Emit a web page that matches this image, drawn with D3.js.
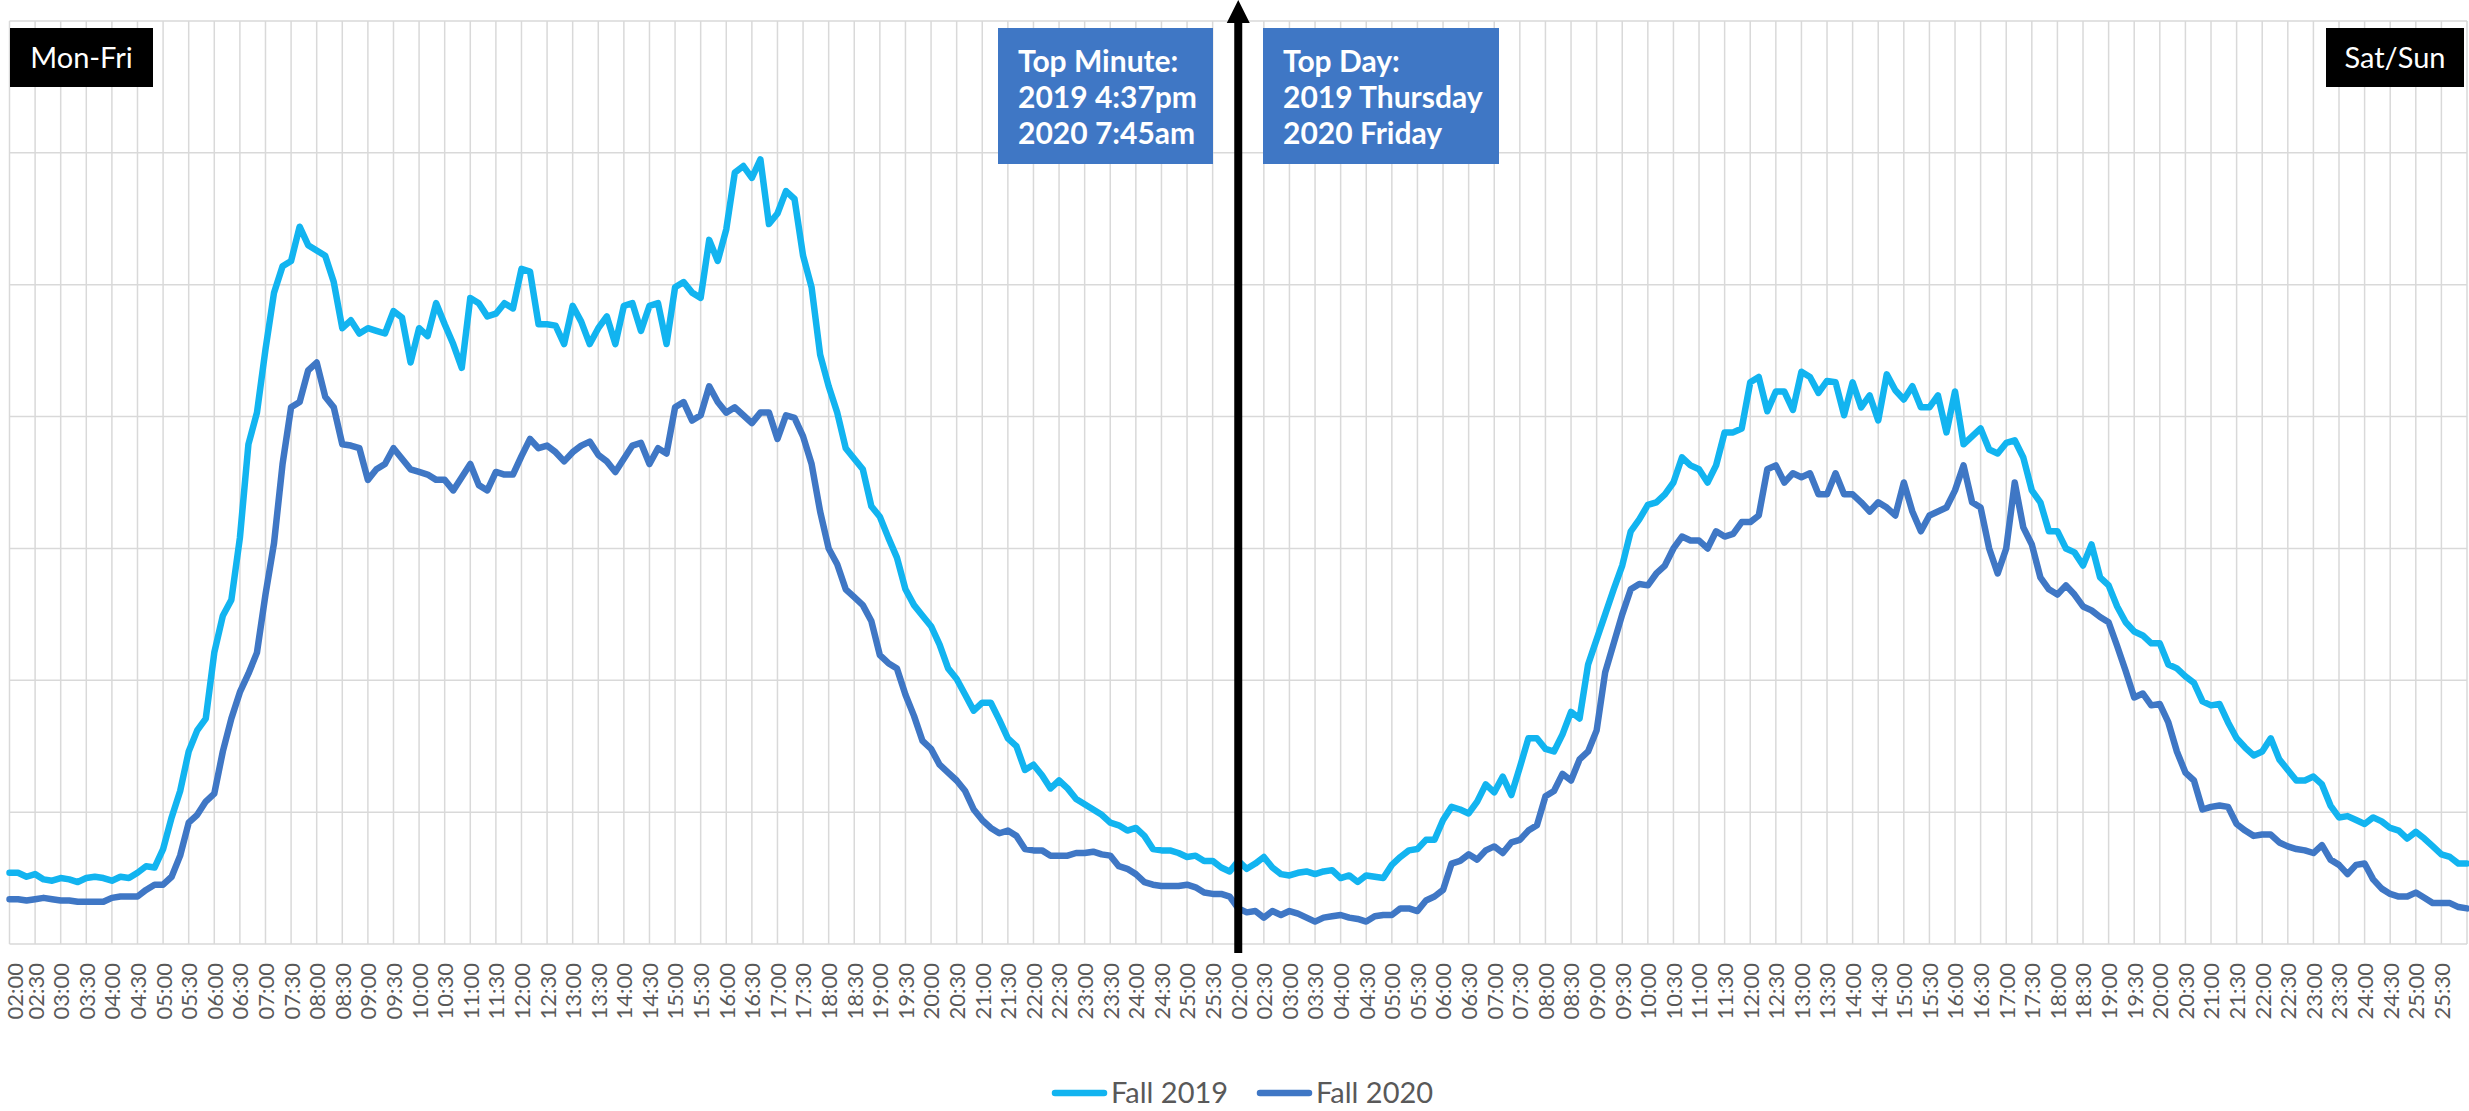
<!DOCTYPE html>
<html>
<head>
<meta charset="utf-8">
<script src="https://cdn.jsdelivr.net/npm/d3@7"></script>
<style>
  html, body { margin: 0; padding: 0; background: #fff; }
  svg { display: block; }
</style>
</head>
<body>
<svg id="chart" width="2469" height="1111"></svg>
<script>
// category labels (one per half hour, repeated for weekday and weekend)
const timeLabels = [
  "02:00","02:30","03:00","03:30","04:00","04:30","05:00","05:30",
  "06:00","06:30","07:00","07:30","08:00","08:30","09:00","09:30",
  "10:00","10:30","11:00","11:30","12:00","12:30","13:00","13:30",
  "14:00","14:30","15:00","15:30","16:00","16:30","17:00","17:30",
  "18:00","18:30","19:00","19:30","20:00","20:30","21:00","21:30",
  "22:00","22:30","23:00","23:30","24:00","24:30","25:00","25:30"
];
const tickLabels = timeLabels.concat(timeLabels);

// values every 10 minutes (1 unit = one gridline step)
const fall2019Weekday = [
  0.54,0.54,0.51,0.53,0.49,0.48,0.50,0.49,0.47,
  0.50,0.51,0.50,0.48,0.51,0.50,0.54,0.59,0.58,
  0.72,0.96,1.16,1.46,1.62,1.71,2.21,2.49,2.61,
  3.08,3.79,4.03,4.51,4.94,5.14,5.18,5.44,5.30,
  5.26,5.22,5.02,4.67,4.73,4.63,4.67,4.65,4.63,
  4.80,4.75,4.41,4.67,4.61,4.86,4.70,4.55,4.37,
  4.90,4.86,4.76,4.78,4.86,4.82,5.12,5.10,4.70,
  4.70,4.69,4.55,4.84,4.72,4.55,4.67,4.76,4.55,
  4.84,4.86,4.65,4.84,4.86,4.55,4.98,5.02,4.94,
  4.90,5.34,5.18,5.42,5.85,5.90,5.81,5.95,5.46,
  5.54,5.71,5.65,5.22,4.98,4.47,4.23,4.03,3.76,
  3.68,3.60,3.32,3.24,3.08,2.93,2.69,2.57,2.49,
  2.41,2.27,2.09,2.01,1.89,1.77,1.83,1.83,1.70,
  1.56,1.50,1.32,1.36,1.28,1.18,1.24,1.18,1.10,
  1.06,1.02,0.98,0.92,0.90,0.86,0.88,0.82,0.72,
  0.71,0.71,0.69,0.66,0.67,0.63,0.63,0.58,0.55
];
const fall2019Weekend = [
  0.63,0.57,0.61,0.66,0.58,0.53,0.52,0.54,0.55,
  0.53,0.55,0.56,0.50,0.52,0.47,0.52,0.51,0.50,
  0.60,0.66,0.71,0.72,0.79,0.79,0.94,1.04,1.02,
  0.99,1.08,1.21,1.15,1.27,1.13,1.34,1.56,1.56,
  1.48,1.46,1.59,1.76,1.71,2.12,2.31,2.50,2.69,
  2.87,3.13,3.22,3.33,3.35,3.41,3.50,3.69,3.63,
  3.60,3.50,3.63,3.88,3.88,3.91,4.26,4.30,4.04,
  4.19,4.19,4.05,4.34,4.30,4.18,4.27,4.26,4.01,
  4.26,4.07,4.16,3.97,4.32,4.20,4.13,4.23,4.07,
  4.07,4.16,3.88,4.19,3.79,3.85,3.91,3.75,3.72,
  3.80,3.82,3.69,3.44,3.35,3.13,3.13,3.00,2.97,
  2.87,3.03,2.78,2.72,2.56,2.44,2.37,2.34,2.28,
  2.28,2.12,2.09,2.03,1.98,1.84,1.81,1.82,1.68,
  1.56,1.49,1.43,1.46,1.56,1.40,1.32,1.24,1.24,
  1.27,1.21,1.05,0.96,0.97,0.94,0.91,0.96,0.93,
  0.88,0.86,0.80,0.85,0.80,0.74,0.68,0.66,0.61,
  0.61
];
const fall2020Weekday = [
  0.34,0.34,0.33,0.34,0.35,0.34,0.33,0.33,0.32,
  0.32,0.32,0.32,0.35,0.36,0.36,0.36,0.41,0.45,
  0.45,0.51,0.67,0.92,0.98,1.08,1.14,1.46,1.71,
  1.91,2.05,2.21,2.65,3.04,3.64,4.07,4.11,4.35,
  4.41,4.15,4.07,3.79,3.78,3.76,3.52,3.60,3.64,
  3.76,3.68,3.60,3.58,3.56,3.52,3.52,3.44,3.54,
  3.64,3.48,3.44,3.58,3.56,3.56,3.70,3.83,3.76,
  3.78,3.73,3.66,3.73,3.78,3.81,3.71,3.66,3.58,
  3.68,3.78,3.80,3.64,3.76,3.72,4.07,4.11,3.97,
  4.01,4.23,4.11,4.03,4.07,4.01,3.95,4.03,4.03,
  3.83,4.01,3.99,3.85,3.64,3.28,3.00,2.88,2.69,
  2.63,2.57,2.45,2.19,2.13,2.09,1.89,1.73,1.54,
  1.48,1.36,1.30,1.24,1.16,1.02,0.94,0.88,0.84,
  0.86,0.82,0.72,0.71,0.71,0.67,0.67,0.67,0.69,
  0.69,0.70,0.68,0.67,0.59,0.57,0.53,0.47,0.45,
  0.44,0.44,0.44,0.45,0.43,0.39,0.38,0.38,0.36
];
const fall2020Weekend = [
  0.27,0.24,0.25,0.20,0.25,0.22,0.25,0.23,0.20,
  0.17,0.20,0.21,0.22,0.20,0.19,0.17,0.21,0.22,
  0.22,0.27,0.27,0.25,0.33,0.36,0.41,0.61,0.63,
  0.68,0.64,0.71,0.74,0.69,0.77,0.79,0.86,0.90,
  1.12,1.16,1.29,1.24,1.40,1.46,1.62,2.06,2.28,
  2.50,2.69,2.73,2.72,2.81,2.87,3.00,3.09,3.06,
  3.06,3.00,3.13,3.09,3.11,3.20,3.20,3.25,3.60,
  3.63,3.50,3.57,3.54,3.57,3.41,3.41,3.57,3.41,
  3.41,3.35,3.28,3.35,3.31,3.25,3.50,3.28,3.13,
  3.25,3.28,3.31,3.44,3.63,3.35,3.31,3.00,2.81,
  3.00,3.50,3.16,3.03,2.78,2.69,2.65,2.72,2.65,
  2.56,2.53,2.48,2.44,2.26,2.07,1.87,1.90,1.81,
  1.82,1.68,1.46,1.30,1.24,1.02,1.04,1.05,1.04,
  0.91,0.86,0.82,0.83,0.83,0.77,0.74,0.72,0.71,
  0.69,0.75,0.64,0.60,0.53,0.60,0.61,0.49,0.42,
  0.38,0.36,0.36,0.39,0.35,0.31,0.31,0.31,0.28,
  0.27
];

const seriesNames = ["Fall 2019", "Fall 2020"];
const seriesColors = ["#12B4F0", "#3F77C5"];
const series = [
  fall2019Weekday.concat(fall2019Weekend),
  fall2020Weekday.concat(fall2020Weekend)
];

const svg = d3.select("#chart");
const width = 2469;
const height = 1111;
const plot = { left: 9.5, right: 2467, top: 21, bottom: 944 };

const FONT = "Lato, 'Open Sans', sans-serif";
const GRID_COLOR = "#D9D9D9";

svg.append("rect").attr("width", width).attr("height", height).attr("fill", "#fff");

// x in half-hour categories, 96 of them across both panels
const x = d3.scaleLinear().domain([0, tickLabels.length]).range([plot.left, plot.right]);
const y = d3.scaleLinear().domain([0, 7]).range([plot.bottom, plot.top]);

// horizontal gridlines
svg.append("g")
    .attr("stroke", GRID_COLOR)
    .attr("stroke-width", 1.5)
  .selectAll("line")
  .data(d3.range(0, 8))
  .join("line")
    .attr("x1", plot.left)
    .attr("x2", plot.right)
    .attr("y1", d => y(d))
    .attr("y2", d => y(d));

// vertical gridlines, one per category tick
svg.append("g")
    .attr("stroke", GRID_COLOR)
    .attr("stroke-width", 1.5)
  .selectAll("line")
  .data(d3.range(0, tickLabels.length + 1))
  .join("line")
    .attr("x1", d => x(d))
    .attr("x2", d => x(d))
    .attr("y1", plot.top)
    .attr("y2", plot.bottom);

// category axis with rotated labels
const xAxis = d3.axisBottom(x)
    .tickValues(d3.range(0, tickLabels.length))
    .tickFormat(i => tickLabels[i])
    .tickSize(0);

const axisG = svg.append("g")
    .attr("transform", `translate(0,${plot.bottom})`)
    .call(xAxis);

axisG.select(".domain").remove();
// the first label sits on the left edge; nudge it so it is not clipped
axisG.selectAll(".tick")
    .filter(d => d === 0)
    .attr("transform", `translate(${x(0) + 6},0)`);
axisG.selectAll("text")
    .attr("font-family", FONT)
    .attr("font-size", 22)
    .attr("fill", "#595959")
    .attr("text-anchor", "end")
    .attr("transform", "rotate(-90)")
    .attr("x", -19)
    .attr("y", 0)
    .attr("dy", "0.36em");

// the two series, one point every 10 minutes (3 per category)
const line = d3.line()
    .x((d, i) => x(i / 3))
    .y(d => y(d));

svg.append("g")
  .selectAll("path")
  .data(series)
  .join("path")
    .attr("fill", "none")
    .attr("stroke", (d, i) => seriesColors[i])
    .attr("stroke-width", 6.5)
    .attr("stroke-linejoin", "round")
    .attr("stroke-linecap", "round")
    .attr("d", line);

// weekday / weekend divider arrow
const midX = x(timeLabels.length);
svg.append("rect")
    .attr("x", midX - 4)
    .attr("y", 20)
    .attr("width", 8)
    .attr("height", 953 - 20)
    .attr("fill", "#000");
svg.append("path")
    .attr("d", `M${midX - 11.5},23 L${midX + 11.5},23 L${midX},0 Z`)
    .attr("fill", "#000");

// black corner tags
const tags = [
  { text: "Mon-Fri", x: 10, w: 143 },
  { text: "Sat/Sun", x: 2326, w: 138 }
];
const tagG = svg.append("g").selectAll("g").data(tags).join("g");
tagG.append("rect")
    .attr("x", d => d.x)
    .attr("y", 28)
    .attr("width", d => d.w)
    .attr("height", 59)
    .attr("fill", "#000");
tagG.append("text")
    .attr("x", d => d.x + d.w / 2)
    .attr("y", 68)
    .attr("text-anchor", "middle")
    .attr("font-family", FONT)
    .attr("font-size", 29)
    .attr("fill", "#fff")
    .text(d => d.text);

// blue note boxes
const notes = [
  { x: 998, w: 215, lines: ["Top Minute:", "2019 4:37pm", "2020 7:45am"] },
  { x: 1263, w: 236, lines: ["Top Day:", "2019 Thursday", "2020 Friday"] }
];
const noteG = svg.append("g").selectAll("g").data(notes).join("g");
noteG.append("rect")
    .attr("x", d => d.x)
    .attr("y", 28)
    .attr("width", d => d.w)
    .attr("height", 136)
    .attr("fill", "#3F77C5");
noteG.each(function(d) {
  d3.select(this).selectAll("text")
    .data(d.lines)
    .join("text")
      .attr("x", d.x + 20)
      .attr("y", (t, i) => 72 + i * 36)
      .attr("font-family", FONT)
      .attr("font-weight", 700)
      .attr("font-size", 30)
      .attr("fill", "#fff")
      .text(t => t);
});

// legend
const legendItems = [
  { name: seriesNames[0], color: seriesColors[0], x: 1052 },
  { name: seriesNames[1], color: seriesColors[1], x: 1257 }
];
const legendG = svg.append("g").selectAll("g").data(legendItems).join("g");
legendG.append("line")
    .attr("x1", d => d.x + 3)
    .attr("x2", d => d.x + 52)
    .attr("y1", 1093)
    .attr("y2", 1093)
    .attr("stroke", d => d.color)
    .attr("stroke-width", 6.5)
    .attr("stroke-linecap", "round");
legendG.append("text")
    .attr("x", d => d.x + 59)
    .attr("y", 1103)
    .attr("font-family", FONT)
    .attr("font-size", 29)
    .attr("fill", "#595959")
    .text(d => d.name);
</script>
</body>
</html>
